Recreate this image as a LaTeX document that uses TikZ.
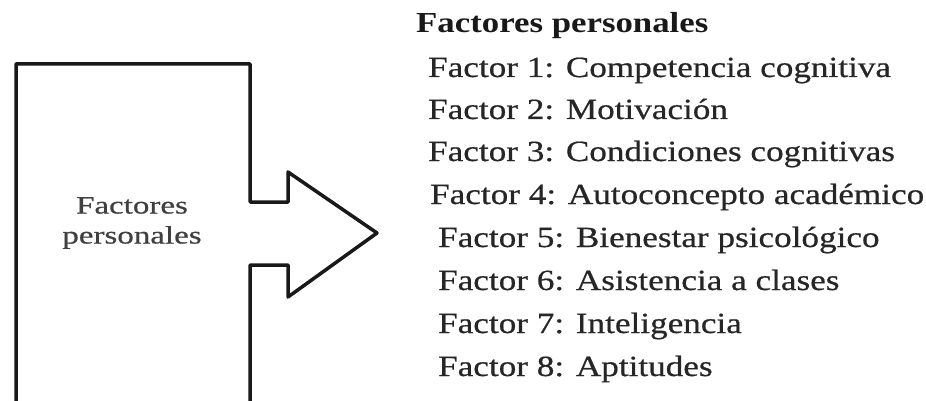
\documentclass[tikz,border=0pt]{standalone}
\usepackage{fontspec}
\setmainfont{Liberation Serif}
\newfontfamily\listfont[FakeStretch=1.2,FakeBold=0.6]{Liberation Serif}
\newfontfamily\headfont[FakeStretch=1.2]{Liberation Serif}
\newfontfamily\boxfont[FakeStretch=1.32,FakeBold=0.6]{Liberation Serif}
\usetikzlibrary{positioning}

\begin{document}
\begin{tikzpicture}[x=1pt,y=-1pt,
    item/.style={anchor=base west,inner sep=0pt,text=black!85,
      font=\listfont\fontsize{29.3}{34}\selectfont},
    head/.style={anchor=base west,inner sep=0pt,text=black!90,
      font=\headfont\bfseries\fontsize{29}{34}\selectfont},
    boxlabel/.style={align=center,inner sep=0pt,text=black!75,
      font=\boxfont\fontsize{25}{30}\selectfont}]
  \useasboundingbox (0,0) rectangle (926,401);

  % --- Open box with arrow ---
  \draw[line width=3.5pt,line join=round,black!90]
    (16,401) -- (16,64) -- (250,64) -- (250,202) -- (288,202) -- (288,172)
    -- (377,233) -- (288,297) -- (288,265) -- (250,265) -- (250,401);
  \node[boxlabel] (box) at (132,223) {Factores\\personales};

  % --- List of factors ---
  \node[head] (title) at (416,33) {Factores personales};
  \node[item] (f1) at (428,77) {Factor 1: Competencia cognitiva};
  \node[item] (f2) at (428,119) {Factor 2: Motivación};
  \node[item] (f3) at (428,161) {Factor 3: Condiciones cognitivas};
  \node[item] (f4) at (430,204) {Factor 4: Autoconcepto académico};
  \node[item] (f5) at (438,247) {Factor 5: Bienestar psicológico};
  \node[item] (f6) at (438,290) {Factor 6: Asistencia a clases};
  \node[item] (f7) at (438,333) {Factor 7: Inteligencia};
  \node[item] (f8) at (438,376) {Factor 8: Aptitudes};
\end{tikzpicture}
\end{document}
